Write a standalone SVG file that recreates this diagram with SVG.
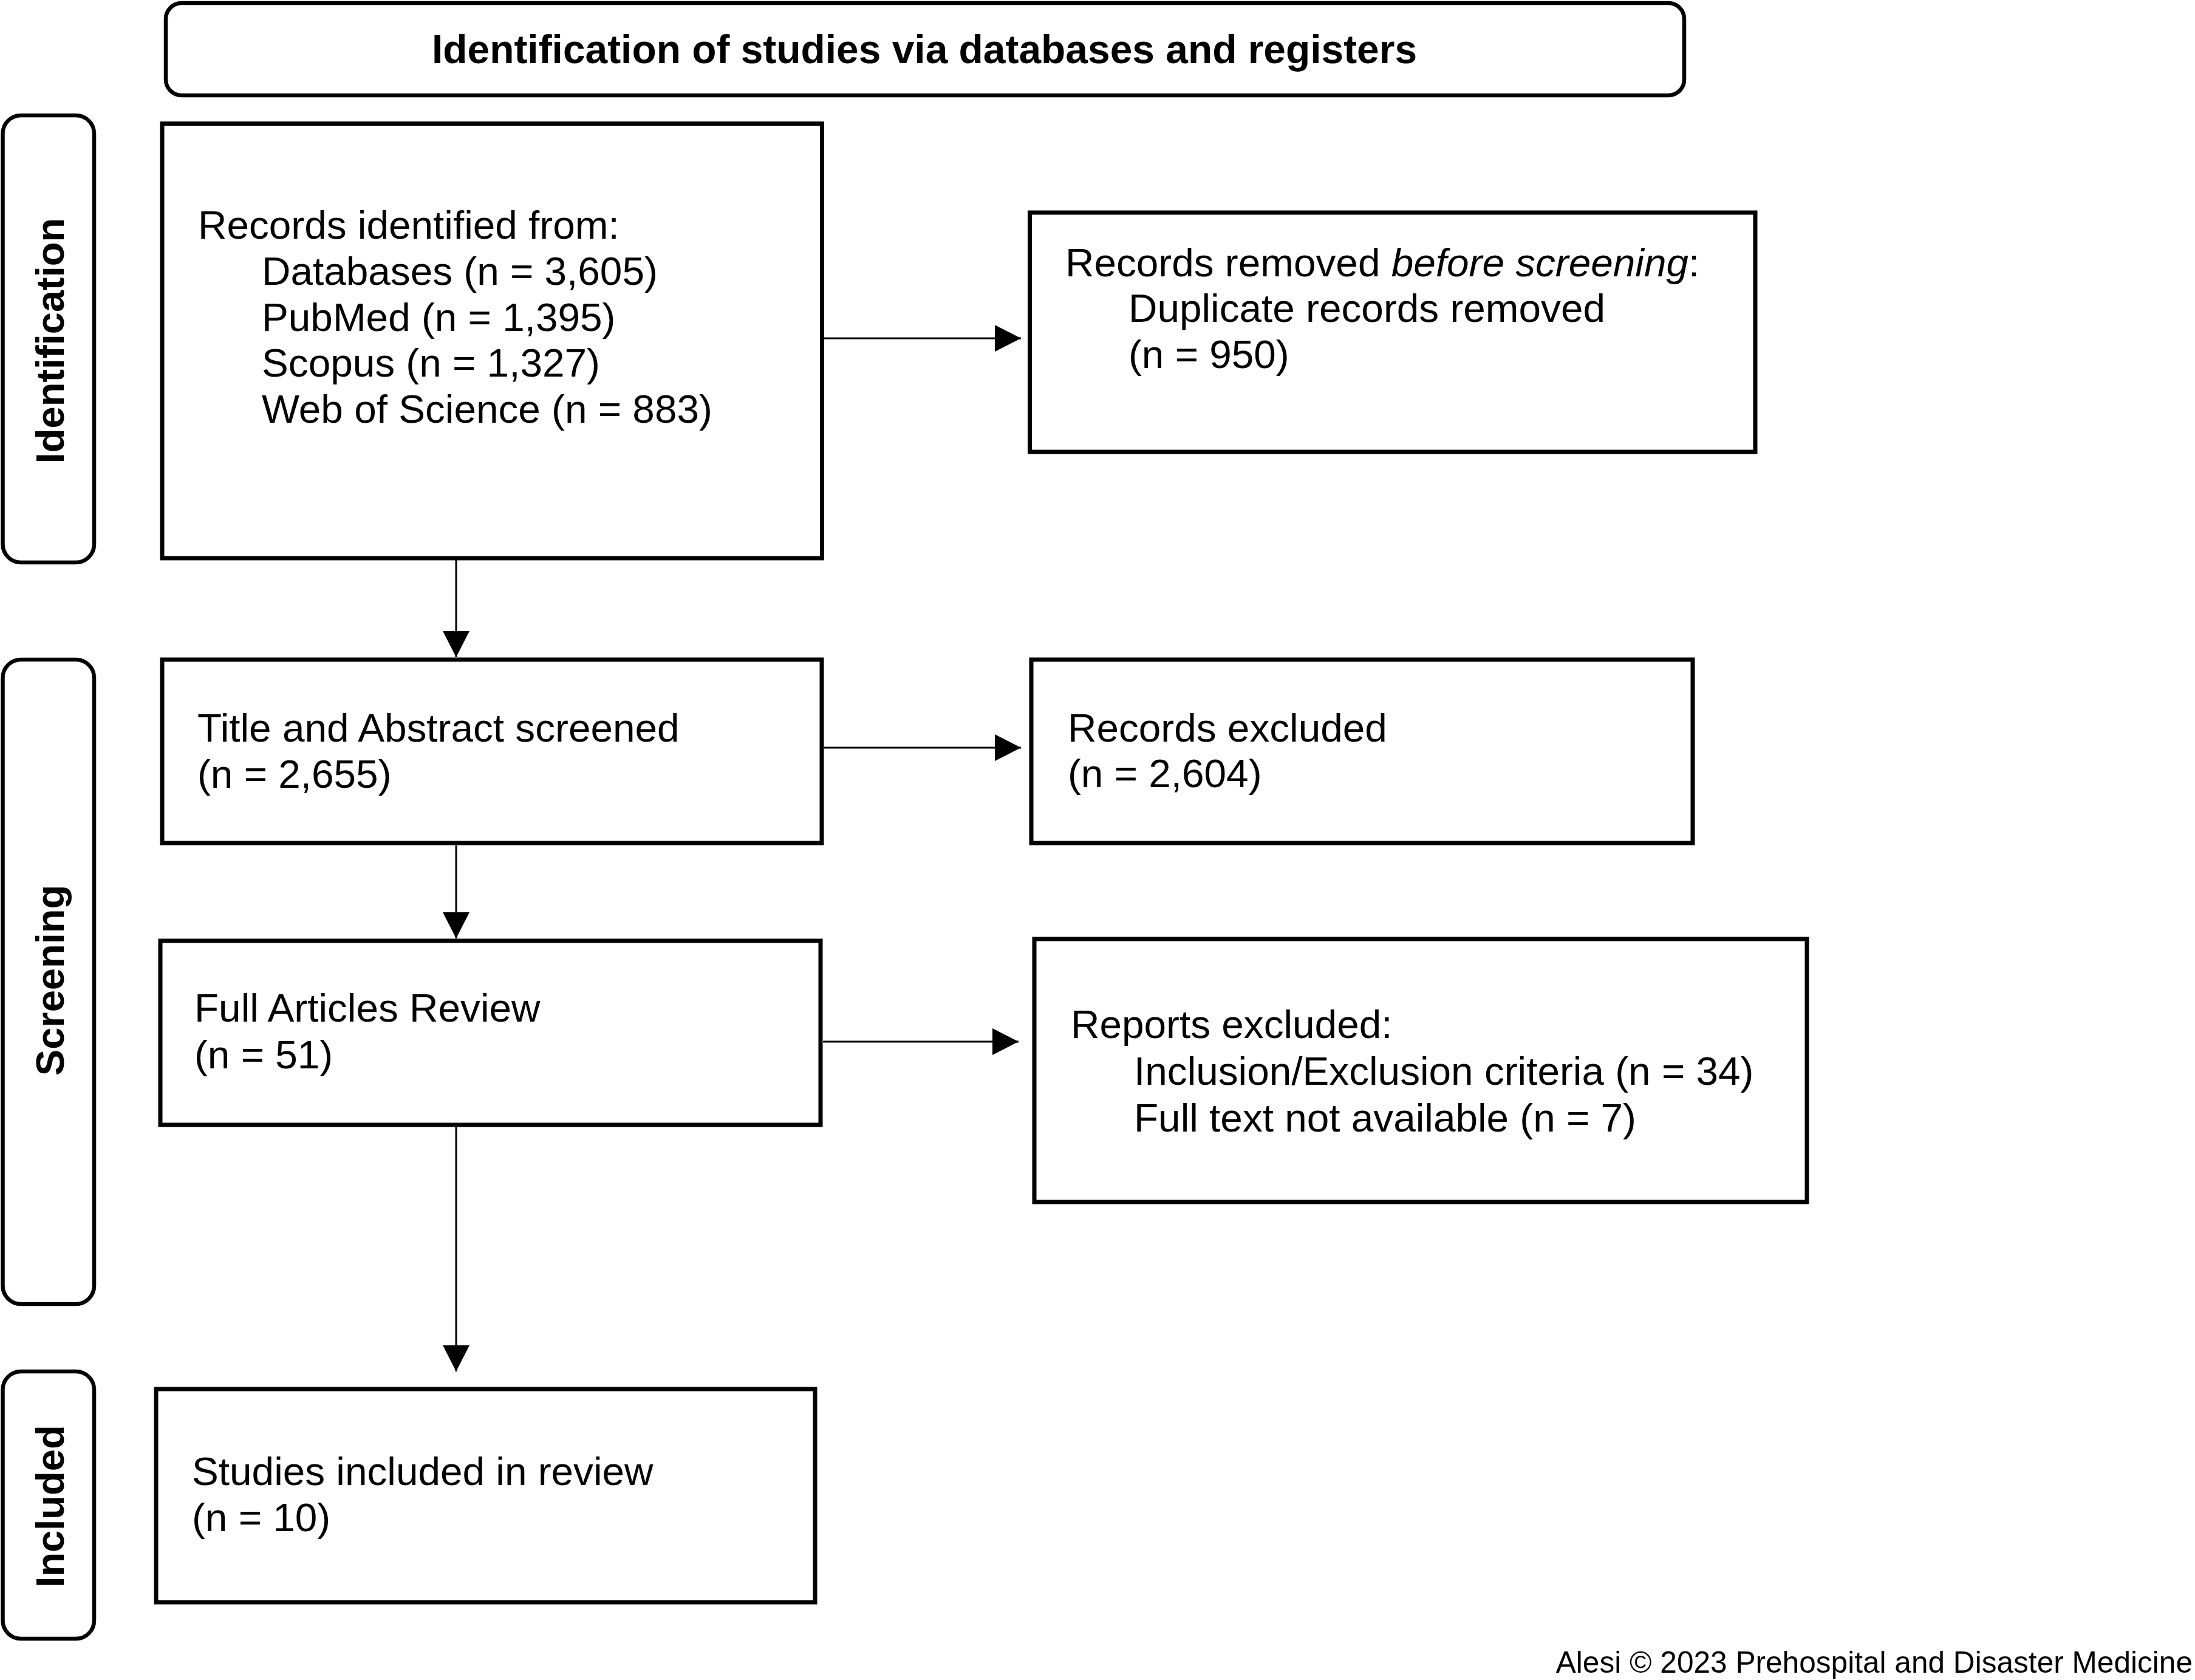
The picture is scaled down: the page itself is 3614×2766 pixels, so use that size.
<svg xmlns="http://www.w3.org/2000/svg" width="3614" height="2766" viewBox="0 0 3614 2766">
<style>
  .box { fill: #ffffff; stroke: #000000; stroke-width: 7; }
  .rbox { fill: #ffffff; stroke: #000000; stroke-width: 6.5; }
  .t { font-family: "Liberation Sans", Arial, Helvetica, sans-serif; font-size: 65.7px; fill: #000000; }
  .b { font-family: "Liberation Sans", Arial, Helvetica, sans-serif; font-size: 65.9px; font-weight: bold; fill: #000000; }
  .side { font-family: "Liberation Sans", Arial, Helvetica, sans-serif; font-size: 65px; font-weight: bold; fill: #000000; text-anchor: middle; }
  .foot { font-family: "Liberation Sans", Arial, Helvetica, sans-serif; font-size: 49.6px; fill: #000000; text-anchor: end; }
  .conn { fill: none; stroke: #000000; stroke-width: 3; marker-end: url(#arrow); }
</style>
<defs>
  <marker id="arrow" markerUnits="userSpaceOnUse" markerWidth="44" markerHeight="44" refX="43" refY="22" orient="auto">
    <path d="M0,0 L43,22 L0,44 Z" fill="#000000"/>
  </marker>
</defs>
<rect width="3614" height="2766" fill="#ffffff"/>

<g id="banner">
  <rect class="rbox" x="273" y="5" width="2500" height="152" rx="26" ry="26"/>
  <text class="b" x="1522" y="104" text-anchor="middle">Identification of studies via databases and registers</text>
</g>

<g id="phase-identification">
  <rect class="rbox" x="4.5" y="190" width="150.5" height="736" rx="30" ry="30"/>
  <text class="side" transform="translate(105,561) rotate(-90)">Identification</text>
</g>
<g id="phase-screening">
  <rect class="rbox" x="4.5" y="1086" width="150.5" height="1061" rx="30" ry="30"/>
  <text class="side" transform="translate(105,1614) rotate(-90)">Screening</text>
</g>
<g id="phase-included">
  <rect class="rbox" x="4.5" y="2258" width="150.5" height="440" rx="30" ry="30"/>
  <text class="side" transform="translate(105,2480) rotate(-90)">Included</text>
</g>

<g id="records-identified">
  <rect class="box" x="267" y="203.5" width="1086.5" height="715.5"/>
  <text class="t" x="326" y="393">Records identified from:</text>
  <text class="t" x="431" y="469">Databases (n = 3,605)</text>
  <text class="t" x="431" y="545">PubMed (n = 1,395)</text>
  <text class="t" x="431" y="620">Scopus (n = 1,327)</text>
  <text class="t" x="431" y="696">Web of Science (n = 883)</text>
</g>

<g id="records-removed">
  <rect class="box" x="1695.5" y="350" width="1194.5" height="394"/>
  <text class="t" x="1754" y="455">Records removed <tspan font-style="italic">before screening</tspan>:</text>
  <text class="t" x="1858" y="530">Duplicate records removed</text>
  <text class="t" x="1858" y="606">(n = 950)</text>
</g>

<g id="title-abstract-screened">
  <rect class="box" x="267" y="1086" width="1086" height="302"/>
  <text class="t" x="325" y="1221">Title and Abstract screened</text>
  <text class="t" x="325" y="1297">(n = 2,655)</text>
</g>

<g id="records-excluded">
  <rect class="box" x="1698" y="1086" width="1089" height="302"/>
  <text class="t" x="1758" y="1221">Records excluded</text>
  <text class="t" x="1758" y="1296">(n = 2,604)</text>
</g>

<g id="full-articles-review">
  <rect class="box" x="264" y="1549" width="1087" height="303"/>
  <text class="t" x="320" y="1682">Full Articles Review</text>
  <text class="t" x="320" y="1759">(n = 51)</text>
</g>

<g id="reports-excluded">
  <rect class="box" x="1703" y="1546" width="1272" height="433"/>
  <text class="t" x="1763" y="1709">Reports excluded:</text>
  <text class="t" x="1867" y="1786">Inclusion/Exclusion criteria (n = 34)</text>
  <text class="t" x="1867" y="1863">Full text not available (n = 7)</text>
</g>

<g id="studies-included">
  <rect class="box" x="257" y="2287" width="1085" height="351"/>
  <text class="t" x="316" y="2445">Studies included in review</text>
  <text class="t" x="316" y="2521">(n = 10)</text>
</g>

<g id="connectors">
  <line class="conn" x1="1357" y1="557" x2="1681" y2="557"/>
  <line class="conn" x1="1357" y1="1231" x2="1681" y2="1231"/>
  <line class="conn" x1="1355" y1="1715" x2="1677" y2="1715"/>
  <line class="conn" x1="751" y1="922" x2="751" y2="1082"/>
  <line class="conn" x1="751" y1="1392" x2="751" y2="1545"/>
  <line class="conn" x1="751" y1="1855" x2="751" y2="2258"/>
</g>

<text class="foot" x="3610" y="2754">Alesi © 2023 Prehospital and Disaster Medicine</text>
</svg>
